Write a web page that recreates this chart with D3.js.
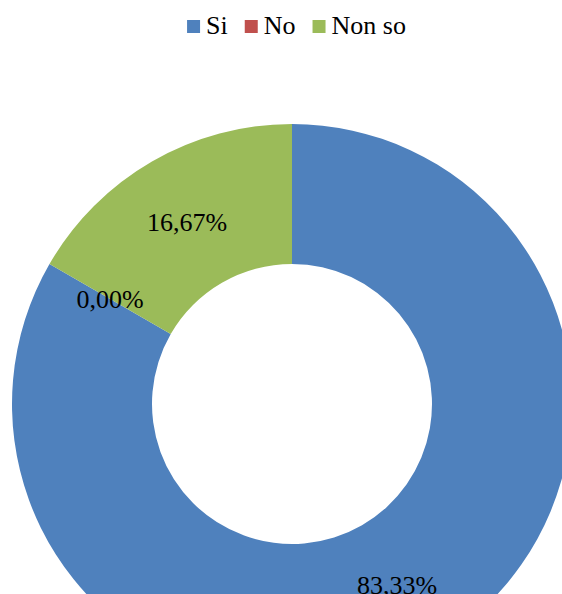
<!DOCTYPE html>
<html>
<head>
<meta charset="utf-8">
<script src="https://cdn.jsdelivr.net/npm/d3@7"></script>
<style>
html, body { margin: 0; padding: 0; background: #fff; overflow: hidden; }
svg { display: block; }
</style>
</head>
<body>
<svg id="chart" width="562" height="594"></svg>
<script>
const categories = ["Si", "No", "Non so"];
const values = [83.33, 0.00, 16.67];
const labels = ["83,33%", "0,00%", "16,67%"];
const colors = ["#4F81BD", "#C0504D", "#9BBB59"];

const svg = d3.select("#chart");
const W = 562, H = 594;
const cx = 292, cy = 404, R = 280, r = 140;
const font = "'Liberation Serif', 'Times New Roman', serif";

const data = categories.map((c, i) => ({ cat: c, value: values[i], label: labels[i], color: colors[i] }));

const pie = d3.pie().value(d => d.value).sort(null);
const arc = d3.arc().innerRadius(r).outerRadius(R);
const labelArc = d3.arc().innerRadius((R + r) / 2).outerRadius((R + r) / 2);

const g = svg.append("g").attr("transform", `translate(${cx},${cy})`);
const arcs = pie(data);

g.selectAll("path.slice").data(arcs).enter().append("path")
  .attr("class", "slice")
  .attr("d", arc)
  .attr("fill", d => d.data.color);

g.selectAll("text.lbl").data(arcs).enter().append("text")
  .attr("class", "lbl")
  .attr("transform", d => `translate(${labelArc.centroid(d)})`)
  .attr("text-anchor", "middle")
  .attr("dominant-baseline", "central")
  .attr("font-family", font)
  .attr("font-size", 26)
  .attr("fill", "#000")
  .text(d => d.data.label);

// Legend
const legend = svg.append("g").attr("class", "legend");
const sq = 13, gapText = 6, gapItem = 17, baseline = 34;
let x = 0;
const items = [];
data.forEach(d => {
  const it = legend.append("g");
  it.append("rect").attr("x", x).attr("y", baseline - 14).attr("width", sq).attr("height", sq).attr("fill", d.color);
  const t = it.append("text").attr("x", x + sq + gapText).attr("y", baseline)
    .attr("font-family", font).attr("font-size", 26).attr("fill", "#000").text(d.cat);
  const w = t.node().getComputedTextLength();
  x += sq + gapText + w + gapItem;
});
const totalW = x - gapItem;
legend.attr("transform", `translate(${(185 + 408) / 2 - totalW / 2},0)`);
</script>
</body>
</html>
